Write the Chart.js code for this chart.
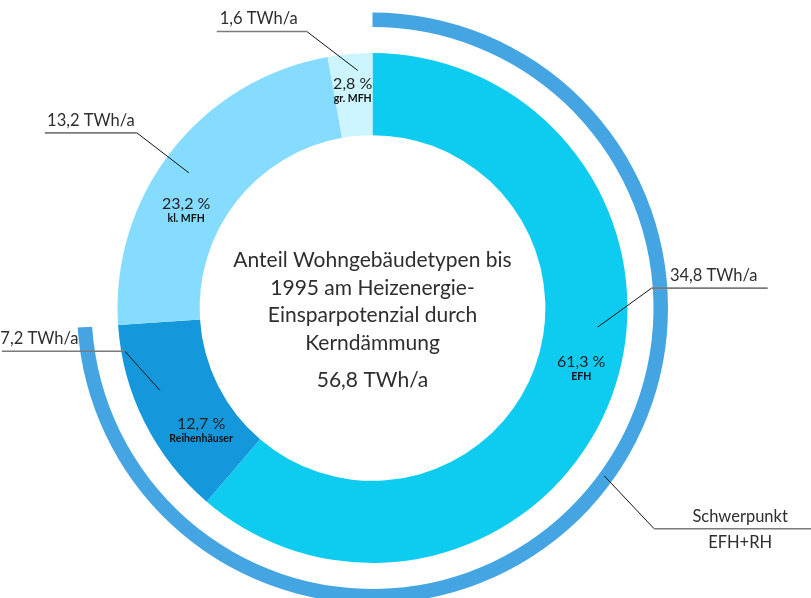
<!DOCTYPE html>
<html lang="de">
<head>
<meta charset="utf-8">
<title>Einsparpotenzial Kerndämmung</title>
<script src="https://cdn.jsdelivr.net/npm/chart.js@4.4.1/dist/chart.umd.min.js"></script>
<style>
  html, body { margin: 0; padding: 0; background: #fff; overflow: hidden; }
  #wrap { position: relative; width: 811px; height: 598px; overflow: hidden; }
  #chart { position: absolute; left: 0; top: 0; }
</style>
</head>
<body>
<div id="wrap"><canvas id="chart" width="811" height="620"></canvas></div>
<script>
// Wohngebäudetypen bis 1995 - Einsparpotenzial durch Kerndämmung
const categories = ['EFH', 'Reihenhäuser', 'kl. MFH', 'gr. MFH'];
const savingsTWh = [34.8, 7.2, 13.2, 1.6];
const shareLabels = ['61,3 %', '12,7 %', '23,2 %', '2,8 %'];
const valueLabels = ['34,8 TWh/a', '7,2 TWh/a', '13,2 TWh/a', '1,6 TWh/a'];
const titleLines = ['Anteil Wohngebäudetypen bis', '1995 am Heizenergie-', 'Einsparpotenzial durch', 'Kerndämmung'];
const totalLabel = '56,8 TWh/a';

// äußerer Bogen: Schwerpunkt EFH + RH (34,8 + 7,2), Rest MFH (13,2 + 1,6)
const focusGroups = ['EFH+RH', 'MFH'];
const focusValues = [42.0, 14.8];
const focusLabel = ['Schwerpunkt', 'EFH+RH'];

const sliceColors = ['#0ecbf0', '#1597dc', '#85dcff', '#ccf5ff'];
const focusColors = ['#45a5e3', 'rgba(0,0,0,0)'];
const textColor = '#2e2e2e';
const FONT = 'Lato, "Open Sans", sans-serif';

// Platzierung der Beschriftungen (Anteil im Segment, Radius)
const pctPos = [
    { t: 0.48, r: 217 },
    { t: 0.31, r: 210 },
    { t: 0.38, r: 211 },
    { t: 0.49, r: 220 }
];
// Führungslinien: Startpunkt im Segment, Knick, waagerechte Linie
const callouts = [
    { ds: 2, idx: 0, text: [valueLabels[0]], t: 0.43, r: 226, dx: 54, dy: -39, len: 116, shift: 4 },
    { ds: 2, idx: 1, text: [valueLabels[1]], t: 0.62, r: 228, dx: -35, dy: -39, len: -123, shift: -24 },
    { ds: 2, idx: 2, text: [valueLabels[2]], t: 0.48, r: 228, dx: -52, dy: -40, len: -92, shift: 0 },
    { ds: 2, idx: 3, text: [valueLabels[3]], t: 0.65, r: 238, dx: -51, dy: -39, len: -90, shift: -3 },
    { ds: 0, idx: 0, text: focusLabel, t: 0.473, r: 286, dx: 50, dy: 53, len: 160, shift: 6 }
];

function pointOn(arc, t, r) {
    const a = arc.startAngle + t * (arc.endAngle - arc.startAngle);
    return { x: arc.x + Math.cos(a) * r, y: arc.y + Math.sin(a) * r };
}

const labelPlugin = {
    id: 'labels',
    afterDraw(chart) {
        const ctx = chart.ctx;
        const ring = chart.getDatasetMeta(2).data;
        const cx = ring[0].x, cy = ring[0].y;
        ctx.save();
        ctx.fillStyle = textColor;
        ctx.textAlign = 'center';
        ctx.textBaseline = 'alphabetic';

        // Titel in der Mitte
        ctx.font = '21px ' + FONT;
        titleLines.forEach((line, i) => ctx.fillText(line, cx, cy - 41 + i * 27.5));
        ctx.fillText(totalLabel, cx, cy + 79);

        // Prozent + Kategorie im Ring
        ring.forEach((arc, i) => {
            const p = pointOn(arc, pctPos[i].t, pctPos[i].r);
            ctx.fillStyle = '#222';
            ctx.font = '16px ' + FONT;
            ctx.fillText(shareLabels[i], p.x, p.y);
            ctx.fillStyle = '#111';
            ctx.font = 'bold 10.5px ' + FONT;
            ctx.fillText(categories[i], p.x, p.y + 13);
        });

        // Führungslinien
        ctx.fillStyle = textColor;
        callouts.forEach(c => {
            const arc = chart.getDatasetMeta(c.ds).data[c.idx];
            const p = pointOn(arc, c.t, c.r);
            const ex = p.x + c.dx, ey = p.y + c.dy;
            const endX = ex + c.len;
            ctx.strokeStyle = '#111';
            ctx.lineWidth = 1;
            ctx.beginPath();
            ctx.moveTo(p.x, p.y);
            ctx.lineTo(ex, ey);
            ctx.stroke();
            ctx.strokeStyle = '#7a7a7a';
            ctx.lineWidth = 1.6;
            ctx.beginPath();
            ctx.moveTo(ex, ey);
            ctx.lineTo(endX, ey);
            ctx.stroke();
            const mx = (ex + endX) / 2 + c.shift;
            ctx.font = '16.5px ' + FONT;
            ctx.fillText(c.text[0], mx, ey - 7);
            if (c.text[1]) ctx.fillText(c.text[1], mx, ey + 19);
        });
        ctx.restore();
    }
};

new Chart(document.getElementById('chart'), {
    type: 'doughnut',
    data: {
        labels: categories,
        datasets: [
            { label: 'Schwerpunkt', data: focusValues, backgroundColor: focusColors, weight: 14.5 },
            { label: 'Abstand', data: [1], backgroundColor: 'rgba(0,0,0,0)', weight: 26 },
            { label: 'Einsparpotenzial', data: savingsTWh, backgroundColor: sliceColors, weight: 82 }
        ]
    },
    options: {
        responsive: false,
        animation: false,
        events: [],
        cutout: '58.5%',
        layout: { padding: { left: 77, right: 143, top: 12.5, bottom: 16.5 } },
        elements: { arc: { borderWidth: 0, hoverOffset: 0 } },
        plugins: { legend: { display: false }, tooltip: { enabled: false } }
    },
    plugins: [labelPlugin]
});
</script>
</body>
</html>
